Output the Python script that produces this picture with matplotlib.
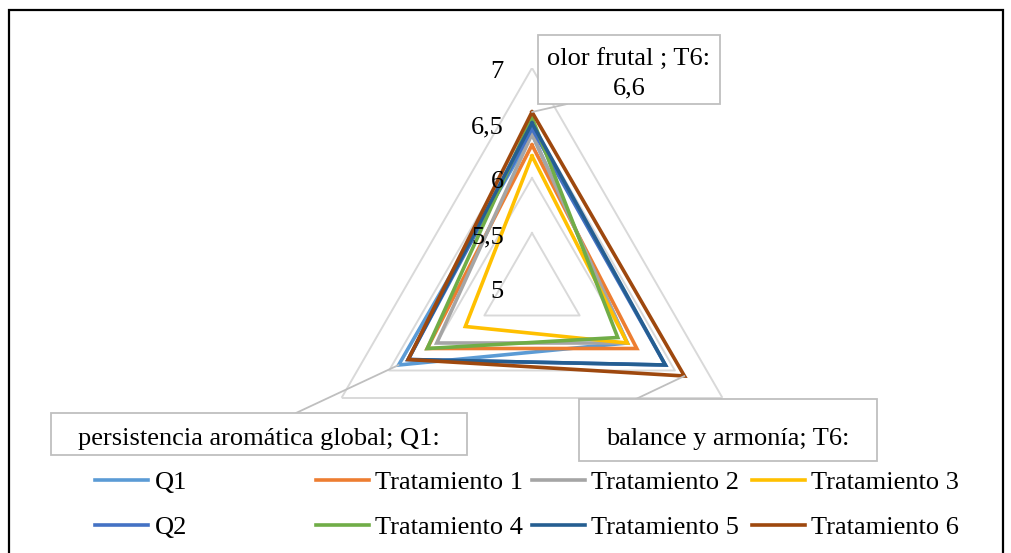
import numpy as np
import matplotlib
matplotlib.use("Agg")
import matplotlib.pyplot as plt
import matplotlib.transforms as mtrans
from matplotlib.patches import Rectangle, ConnectionPatch
from matplotlib.lines import Line2D

plt.rcParams['font.family'] = ['Liberation Serif', 'DejaVu Serif']

categories = ["olor frutal ", "balance y armonía", "persistencia aromática global"]
series_names = ["Q1", "Tratamiento 1", "Tratamiento 2", "Tratamiento 3",
                "Q2", "Tratamiento 4", "Tratamiento 5", "Tratamiento 6"]
Q1 = [6.4, 6.0, 6.4]
T1 = [6.3, 6.1, 6.1]
T2 = [6.4, 6.0, 6.0]
T3 = [6.2, 6.0, 5.7]
Q2 = [6.45, 6.4, 6.3]
T4 = [6.55, 5.9, 6.1]
T5 = [6.5, 6.4, 6.3]
T6 = [6.6, 6.6, 6.3]
series_values = [Q1, T1, T2, T3, Q2, T4, T5, T6]
colors = ["#5B9BD5", "#ED7D31", "#A5A5A5", "#FFC000",
          "#4472C4", "#70AD47", "#255E91", "#9E480E"]
grid_levels = [5.5, 6.0, 6.5, 7.0]
tick_levels = [5.0, 5.5, 6.0, 6.5, 7.0]
tick_labels = ["5", "5,5", "6", "6,5", "7"]

W, H = 1012, 553
fig = plt.figure(figsize=(W / 100, H / 100), dpi=100)

cx, cy, R = 532, H - 288, 220
ax = fig.add_axes([(cx - R) / W, (cy - R) / H, 2 * R / W, 2 * R / H], projection='polar')
ax.set_theta_offset(np.pi / 2)
ax.set_theta_direction(-1)
ax.set_ylim(5, 7)
ax.grid(False)
ax.set_xticks([])
ax.set_yticks([])
ax.spines['polar'].set_visible(False)
ax.patch.set_visible(False)

n = len(categories)
theta = np.arange(n) * 2 * np.pi / n
theta_c = np.append(theta, theta[0])

for lv in grid_levels:
    ax.plot(theta_c, [lv] * (n + 1), color="#D9D9D9", lw=1.4, zorder=1)

for name, vals, c in zip(series_names, series_values, colors):
    ax.plot(theta_c, vals + vals[:1], color=c, lw=2.6, label=name,
            solid_joinstyle='miter', zorder=2)

off = mtrans.offset_copy(ax.transData, fig=fig, x=-28, y=-4, units='dots')
for lv, lab in zip(tick_levels, tick_labels):
    ax.text(0, lv, lab, transform=off, ha='right', va='center', fontsize=19,
            color='black', zorder=3)


def box(x0, y0, x1, y1):
    r = Rectangle((x0 / W, 1 - y1 / H), (x1 - x0) / W, (y1 - y0) / H,
                  transform=fig.transFigure, facecolor='white',
                  edgecolor='#BFBFBF', lw=1.3, zorder=5)
    fig.add_artist(r)


def leader(xpix, ypix, th, r):
    cp = ConnectionPatch(xyA=(xpix / W, 1 - ypix / H), coordsA=fig.transFigure,
                         xyB=(th, r), coordsB=ax.transData,
                         color='#BFBFBF', lw=1.3, zorder=4)
    fig.add_artist(cp)


leader(567, 104, theta[0], T6[0])
box(538, 35, 720, 104)
fig.text(629 / W, 1 - 74 / H, "olor frutal ; T6:\n6,6", ha='center', va='center',
         fontsize=19, linespacing=1.38, zorder=6)

leader(296, 413, theta[2], Q1[2])
box(51, 413, 467, 455)
fig.text(259 / W, 1 - 439 / H, "persistencia aromática global; Q1:", ha='center',
         va='center', fontsize=19, zorder=6)

leader(636, 399, theta[1], T6[1])
box(579, 399, 877, 461)
fig.text(728 / W, 1 - 439 / H, "balance y armonía; T6:", ha='center',
         va='center', fontsize=19, zorder=6)

handles = [Line2D([], [], color=c, lw=2.6) for c in colors]
col_x = [95, 316, 532, 752]
for j in range(4):
    hs = [handles[j], handles[j + 4]]
    ls = [series_names[j], series_names[j + 4]]
    fig.legend(hs, ls, loc='upper left',
               bbox_to_anchor=(col_x[j] / W, 1 - 471 / H),
               frameon=False, fontsize=19, handlelength=2.0,
               handletextpad=0.25, borderpad=0, borderaxespad=0,
               labelspacing=0.8)

fig.add_artist(Rectangle((9 / W, -0.01), (1003 - 9) / W, 1 - 10 / H + 0.01,
                         transform=fig.transFigure, fill=False,
                         edgecolor='black', lw=1.6, zorder=10))

fig.savefig("out.png", dpi=100)
